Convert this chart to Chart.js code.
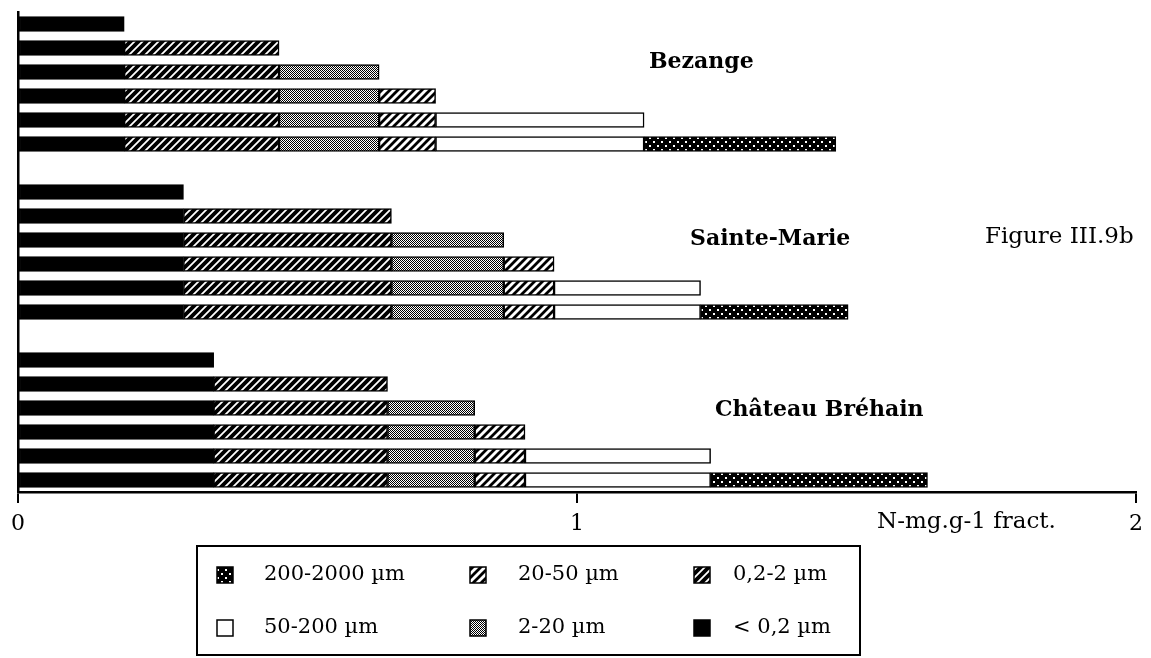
<!DOCTYPE html>
<html>
<head>
<meta charset="utf-8">
<script src="https://cdn.jsdelivr.net/npm/chart.js@4.4.1/dist/chart.umd.min.js"></script>
<style>
html,body{margin:0;padding:0;background:#fff;}
#wrap{position:relative;width:1151px;height:658px;}
</style>
</head>
<body>
<div id="wrap"><canvas id="c" width="1151" height="658"></canvas></div>
<script>
// ---- data (N-mg.g-1 per size fraction) ----
const sites = ['Bezange', 'Sainte-Marie', 'Château Bréhain'];
const fractions = ['< 0,2 µm', '0,2-2 µm', '2-20 µm', '20-50 µm', '50-200 µm', '200-2000 µm'];
const bezange        = [0.190, 0.277, 0.179, 0.101, 0.373, 0.343];
const sainteMarie    = [0.296, 0.372, 0.201, 0.090, 0.262, 0.264];
const chateauBrehain = [0.350, 0.311, 0.156, 0.090, 0.332, 0.388];
const xTicks = [0, 1, 2];
const xTitle = 'N-mg.g-1 fract.';
const figureLabel = 'Figure III.9b';
const legendRows = [
  ['200-2000 µm', '20-50 µm', '0,2-2 µm'],
  ['50-200 µm', '2-20 µm', '< 0,2 µm']
];

const siteValues = [bezange, sainteMarie, chateauBrehain];
const SERIF = '"DejaVu Serif", "Liberation Serif", serif';

// ---- rows: each site shows 6 cumulative bars, then a blank spacer row ----
const rowLabels = [];
const rowSite = [];
const rowStep = [];
siteValues.forEach((vals, s) => {
  for (let k = 0; k < fractions.length; k++) {
    rowLabels.push(sites[s] + ' ' + (k + 1));
    rowSite.push(s); rowStep.push(k);
  }
  if (s < siteValues.length - 1) { rowLabels.push(''); rowSite.push(-1); rowStep.push(-1); }
});

// ---- fill patterns ----
const canvas = document.getElementById('c');
const mainCtx = canvas.getContext('2d');
function tile(size, draw) {
  const c = document.createElement('canvas');
  c.width = size; c.height = size;
  const g = c.getContext('2d');
  draw(g, size);
  return mainCtx.createPattern(c, 'repeat');
}
function diag(g, s, color, w) {
  g.strokeStyle = color; g.lineWidth = w; g.lineCap = 'square';
  g.beginPath();
  g.moveTo(0, s); g.lineTo(s, 0);
  g.moveTo(-s / 2, s / 2); g.lineTo(s / 2, -s / 2);
  g.moveTo(s / 2, s * 1.5); g.lineTo(s * 1.5, s / 2);
  g.stroke();
}
const fills = [
  '#000',                                                     // < 0,2
  tile(8, (g, s) => { g.fillStyle = '#000'; g.fillRect(0, 0, s, s); diag(g, s, '#fff', 1.8); }), // 0,2-2
  tile(2, (g, s) => { g.fillStyle = '#fff'; g.fillRect(0, 0, s, s); g.fillStyle = '#000'; g.fillRect(0, 0, 1, 1); g.fillRect(1, 1, 1, 1); }), // 2-20
  tile(8, (g, s) => { g.fillStyle = '#fff'; g.fillRect(0, 0, s, s); diag(g, s, '#000', 2.8); }), // 20-50
  '#fff',                                                     // 50-200
  tile(8, (g, s) => { g.fillStyle = '#000'; g.fillRect(0, 0, s, s); g.fillStyle = '#fff'; g.fillRect(1, 1, 2, 2); g.fillRect(5, 5, 2, 2); }) // 200-2000
];

const datasets = fractions.map((name, f) => ({
  label: name,
  data: rowLabels.map((_, r) => (rowSite[r] >= 0 && f <= rowStep[r]) ? siteValues[rowSite[r]][f] : null),
  backgroundColor: fills[f],
  borderColor: '#000',
  borderWidth: 1.5,
  borderSkipped: false,
  barThickness: 15
}));

// ---- annotations & legend drawn on the canvas ----
const decor = {
  id: 'decor',
  afterDraw(chart) {
    const ctx = chart.ctx;
    ctx.save();
    ctx.fillStyle = '#000';
    ctx.textBaseline = 'alphabetic';
    ctx.textAlign = 'left';
    ctx.font = 'bold 22px ' + SERIF;
    ctx.fillText(sites[0], 649, 68);
    ctx.fillText(sites[1], 690, 245);
    ctx.fillText(sites[2], 715, 416);
    ctx.font = '23px ' + SERIF;
    ctx.fillText(figureLabel, 985, 243);
    ctx.fillText(xTitle, 877, 528);

    // legend box
    ctx.strokeStyle = '#000';
    ctx.lineWidth = 2;
    ctx.strokeRect(197, 546, 663, 109);
    const colSw = [217, 470, 694];
    const colTx = [47, 48, 39];
    const rowY = [575, 628];
    const legendFill = {};
    fractions.forEach((n, i) => legendFill[n] = fills[i]);
    ctx.font = '21px ' + SERIF;
    legendRows.forEach((row, ri) => {
      row.forEach((name, ci) => {
        const x = colSw[ci], y = rowY[ri];
        ctx.fillStyle = legendFill[name];
        ctx.fillRect(x, y - 8, 16, 16);
        ctx.lineWidth = 1.5;
        ctx.strokeRect(x, y - 8, 16, 16);
        ctx.fillStyle = '#000';
        ctx.textBaseline = 'middle';
        ctx.fillText(name, x + colTx[ci], y);
      });
    });
    ctx.restore();
  }
};

new Chart(canvas, {
  type: 'bar',
  data: { labels: rowLabels, datasets },
  options: {
    indexAxis: 'y',
    responsive: false,
    animation: false,
    events: [],
    layout: { padding: { left: 18, right: 15, top: 12, bottom: 126 } },
    plugins: { legend: { display: false }, tooltip: { enabled: false }, title: { display: false } },
    scales: {
      x: {
        type: 'linear', stacked: true, min: 0, max: 2, position: 'bottom',
        afterBuildTicks: s => { s.ticks = xTicks.map(v => ({ value: v })); },
        afterFit: s => { s.height = 40; },
        ticks: { color: '#000', font: { family: SERIF, size: 22 }, padding: 8, maxRotation: 0, autoSkip: false },
        grid: { drawOnChartArea: false, drawTicks: true, tickLength: 11, color: '#000', lineWidth: 2 },
        border: { display: true, color: '#000', width: 2.5 }
      },
      y: {
        type: 'category', stacked: true,
        afterFit: s => { s.width = 0; },
        ticks: { display: false },
        grid: { drawOnChartArea: false, drawTicks: false, color: '#000' },
        border: { display: true, color: '#000', width: 2.5 }
      }
    }
  },
  plugins: [decor]
});
</script>
</body>
</html>
